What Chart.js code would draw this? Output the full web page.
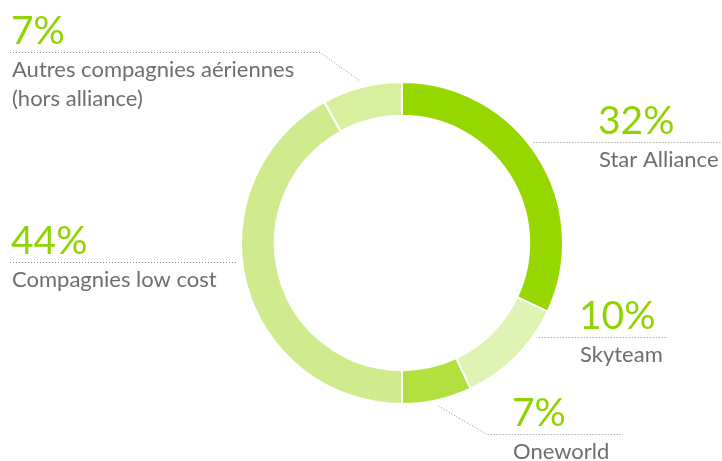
<!DOCTYPE html>
<html>
<head>
<meta charset="utf-8">
<script src="https://cdn.jsdelivr.net/npm/chart.js@4.4.1/dist/chart.umd.min.js"></script>
<style>
html,body{margin:0;padding:0;background:#fff;}
#wrap{width:722px;height:461px;position:relative;}
</style>
</head>
<body>
<div id="wrap"><canvas id="c" width="722" height="461"></canvas></div>
<script>
// Data
const categories = ["Star Alliance", "Skyteam", "Oneworld", "Compagnies low cost", "Autres compagnies aériennes\n(hors alliance)"];
// slice sizes as drawn in the picture
const shares = [32, 11, 7, 42, 8];
// percentage texts printed in the picture
const percentLabels = ["32%", "10%", "7%", "44%", "7%"];
const sliceColors = ["#97d700", "#dff3b5", "#b2e03f", "#d0eb8e", "#d8efa0"];

// Label layout (styling/positions of annotations only)
const labelLayout = [
  {textX: 599, lineY: 142, side: "right", lineEnd: 722},
  {textX: 580, lineY: 337, side: "right", lineEnd: 668},
  {textX: 513, lineY: 434, side: "elbowRight", elbowX: 487, lineEnd: 623},
  {textX: 12,  lineY: 262, side: "left", lineStart: 10},
  {textX: 12,  lineY: 52,  side: "elbowLeft", elbowX: 320, lineStart: 10}
];

const calloutPlugin = {
  id: "callouts",
  afterDraw(chart) {
    const ctx = chart.ctx;
    const meta = chart.getDatasetMeta(0);
    ctx.save();
    meta.data.forEach((arc, i) => {
      const L = labelLayout[i];
      const cx = arc.x, cy = arc.y, R = arc.outerRadius;
      const gap = 6;
      ctx.strokeStyle = "#8a8a8a";
      ctx.lineWidth = 1;
      ctx.setLineDash([1, 2]);
      ctx.beginPath();
      const y = L.lineY + 0.5;
      if (L.side === "right" || L.side === "left") {
        const dy = L.lineY - cy;
        const dx = Math.sqrt(Math.max(R * R - dy * dy, 0));
        if (L.side === "right") {
          ctx.moveTo(cx + dx + gap, y); ctx.lineTo(L.lineEnd, y);
        } else {
          ctx.moveTo(L.lineStart, y); ctx.lineTo(cx - dx - gap, y);
        }
      } else {
        const mid = (arc.startAngle + arc.endAngle) / 2;
        const px = cx + Math.cos(mid) * (R + gap);
        const py = cy + Math.sin(mid) * (R + gap);
        if (L.side === "elbowRight") {
          ctx.moveTo(px, py); ctx.lineTo(L.elbowX, y); ctx.lineTo(L.lineEnd, y);
        } else {
          ctx.moveTo(L.lineStart, y); ctx.lineTo(L.elbowX, y); ctx.lineTo(px, py);
        }
      }
      ctx.stroke();
      ctx.setLineDash([]);
      // percent
      ctx.fillStyle = "#8fd400";
      ctx.font = "39px Lato, 'Open Sans', sans-serif";
      ctx.textBaseline = "alphabetic";
      ctx.textAlign = "left";
      ctx.fillText(percentLabels[i], L.textX - 1, L.lineY - 8);
      // category
      ctx.fillStyle = "#6e6e6e";
      ctx.font = "22px Lato, 'Open Sans', sans-serif";
      const lines = categories[i].split("\n");
      lines.forEach((t, k) => ctx.fillText(t, L.textX, L.lineY + 25 + k * 29));
    });
    ctx.restore();
  }
};

new Chart(document.getElementById("c"), {
  type: "doughnut",
  data: {
    labels: categories,
    datasets: [{
      data: shares,
      backgroundColor: sliceColors,
      borderColor: "#ffffff",
      borderWidth: 2,
      hoverOffset: 0
    }]
  },
  options: {
    responsive: false,
    animation: false,
    radius: 161,
    cutout: "79%",
    layout: {padding: {left: 82, right: 0, top: 25, bottom: 0}},
    plugins: {legend: {display: false}, tooltip: {enabled: false}}
  },
  plugins: [calloutPlugin]
});
</script>
</body>
</html>
